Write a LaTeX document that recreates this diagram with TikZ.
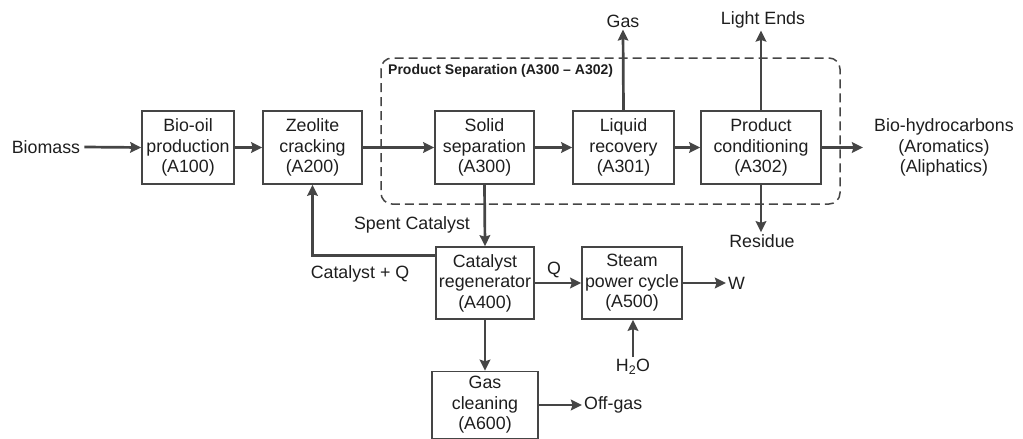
\documentclass[tikz,border=0pt]{standalone}
\usepackage{fontspec}
\setmainfont{Liberation Sans}
\usetikzlibrary{arrows.meta,calc}
\definecolor{linegray}{HTML}{454545}
\definecolor{txt}{HTML}{1E1E1E}
\begin{document}
\begin{tikzpicture}[x=1pt,y=-1pt,
  every node/.style={text=txt,font=\fontsize{17.8}{20.5}\selectfont},
  proc/.style={draw=linegray,line width=1.5pt,align=center,inner sep=0pt,minimum height=73pt},
  lbl/.style={inner sep=2pt,align=center},
  flow/.style={draw=linegray,line width=2.7pt,-{Stealth[length=11pt,width=10.5pt,inset=1.5pt]}},
  sepbox/.style={draw=linegray,line width=1.5pt,dash pattern=on 9pt off 5pt,rounded corners=11pt}
]
\useasboundingbox (0,0) rectangle (1023,439);
% process boxes
\node[proc,minimum width=92pt] (A100) at (188,147.5) {Bio-oil\\production\\(A100)};
\node[proc,minimum width=99pt] (A200) at (312.5,147.5) {Zeolite\\cracking\\(A200)};
\node[proc,minimum width=99pt] (A300) at (484.5,147.5) {Solid\\separation\\(A300)};
\node[proc,minimum width=101pt] (A301) at (623.5,147.5) {Liquid\\recovery\\(A301)};
\node[proc,minimum width=120pt] (A302) at (761,147.5) {Product\\conditioning\\(A302)};
\node[proc,minimum width=98pt,minimum height=72pt] (A400) at (485,283) {Catalyst\\regenerator\\(A400)};
\node[proc,minimum width=100pt,minimum height=72pt] (A500) at (632,283) {Steam\\power cycle\\(A500)};
\node[proc,minimum width=106pt,minimum height=67pt] (A600) at (485,405) {Gas\\cleaning\\(A600)};
% separation group
\draw[sepbox] (381,58) rectangle (840,204);
\node[anchor=west,inner sep=0pt,font=\fontsize{14}{16}\bfseries] (septitle) at (388,71) {Product Separation (A300 -- A302)};
% labels
\node[lbl,inner sep=4pt] (bio) at (46,147) {Biomass};
\node[anchor=west,align=center,inner ysep=0pt,inner xsep=0pt] (bhc) at (874,147.5) {Bio-hydrocarbons\\(Aromatics)\\(Aliphatics)};
\node[lbl] (gas) at (623,21) {Gas};
\node[lbl] (light) at (763,20) {Light Ends};
\node[lbl] (res) at (762,241) {Residue};
\node[lbl] (spent) at (412,225) {Spent Catalyst};
\node[lbl] (catq) at (360,274) {Catalyst + Q};
\node[lbl] (q) at (554,270) {Q};
\node[lbl,anchor=west] (w) at (726,283) {W};
\node[lbl] (h2o) at (633,367) {H\textsubscript{2}O};
\node[lbl,anchor=west] (off) at (582,405) {Off-gas};
% flows
\draw[flow] (bio.east) -- (A100.west);
\draw[flow] (A100.east) -- (A200.west);
\draw[flow] (A200.east) -- (A300.west);
\draw[flow] (A300.east) -- (A301.west);
\draw[flow] (A301.east) -- (A302.west);
\draw[flow,shorten >=11pt] (A302.east) -- (bhc.west);
\draw[flow] (A301.north) -- (gas.south);
\draw[flow] (A302.north) -- (A302.north |- light.south);
\draw[flow] (A302.south) -- (A302.south |- res.north);
\draw[flow] (A300.south) -- (A400.north);
\draw[flow] ($(A400.north west)+(0,9)$) -| (A200.south);
\draw[flow] (A400.east) -- (A500.west);
\draw[flow] (A500.east) -- (w.west);
\draw[flow] (h2o.north) -- (A500.south -| h2o.north);
\draw[flow] (A400.south) -- (A600.north);
\draw[flow] (A600.east) -- (off.west);
\end{tikzpicture}
\end{document}
